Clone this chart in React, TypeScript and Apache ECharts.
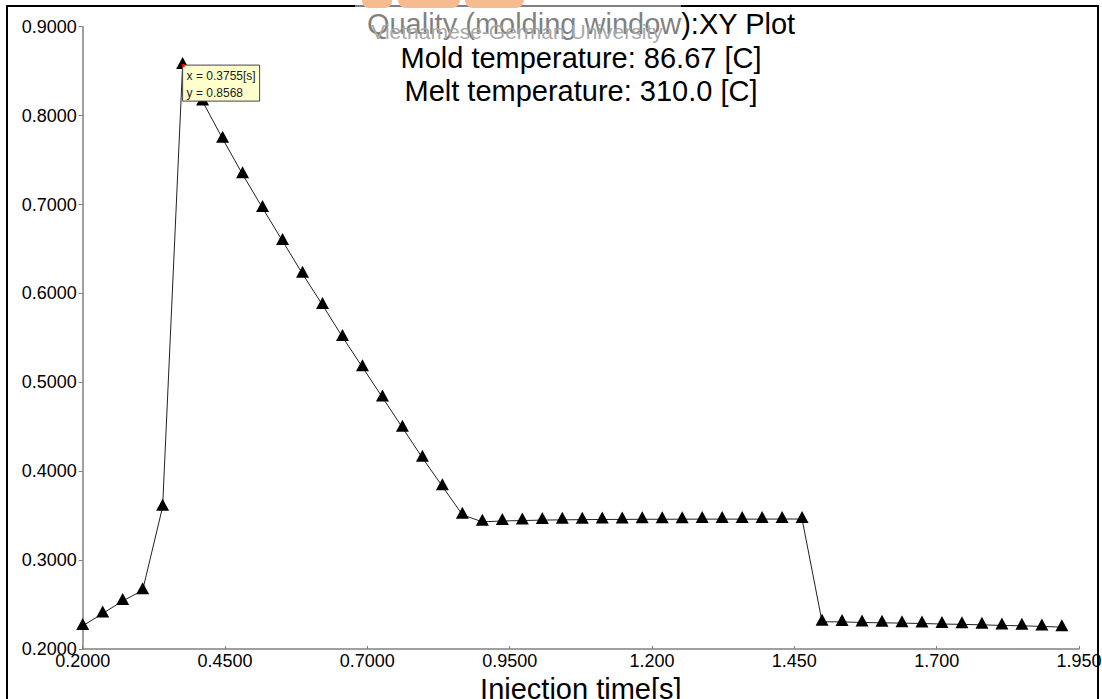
import React, { useEffect, useRef } from "react";
import * as echarts from "echarts";

// Injection time [s]
const times: number[] = [
  0.2000, 0.2351, 0.2702, 0.3053, 0.3404, 0.3755, 0.4106, 0.4457, 0.4808, 0.5159,
  0.5510, 0.5861, 0.6212, 0.6563, 0.6914, 0.7265, 0.7616, 0.7967, 0.8318, 0.8669,
  0.9020, 0.9371, 0.9722, 1.0073, 1.0424, 1.0775, 1.1126, 1.1477, 1.1828, 1.2179,
  1.2530, 1.2881, 1.3232, 1.3583, 1.3934, 1.4285, 1.4636, 1.4987, 1.5338, 1.5689,
  1.6040, 1.6391, 1.6742, 1.7093, 1.7444, 1.7795, 1.8146, 1.8497, 1.8848, 1.9199,
];

// Quality (molding window)
const quality: number[] = [
  0.226, 0.240, 0.254, 0.266, 0.360, 0.8568, 0.816, 0.774, 0.734, 0.696,
  0.659, 0.622, 0.587, 0.551, 0.517, 0.483, 0.449, 0.415, 0.383, 0.351,
  0.343, 0.3440, 0.3445, 0.3450, 0.3453, 0.3455, 0.3457, 0.3458, 0.3459, 0.3460,
  0.3460, 0.3461, 0.3461, 0.3461, 0.3461, 0.3462, 0.3462, 0.2306, 0.2305, 0.2298,
  0.2295, 0.2291, 0.2287, 0.2281, 0.2277, 0.2272, 0.2265, 0.2261, 0.2254, 0.2246,
];

const xStart = 0.2;
const xEnd = 1.95;
const xStep = 0.25;
const yMin = 0.2;
const yMax = 0.9;
const yStep = 0.1;

const titleLine1 = "Quality (molding window):XY Plot";
const titleLine2 = "Mold temperature: 86.67 [C]";
const titleLine3 = "Melt temperature: 310.0 [C]";
const xAxisName = "Injection time[s]";
const watermark = "Vietnamese-German University";

const tipIndex = 5;
const tipX = "x = 0.3755[s]";
const tipY = "y = 0.8568";

const FONT = "'Liberation Sans', Arial, sans-serif";

export default function App() {
  const ref = useRef<HTMLDivElement>(null);

  useEffect(() => {
    document.body.style.margin = "0";
    document.body.style.overflow = "hidden";
    if (!ref.current) return;
    const chart = echarts.init(ref.current, null, { renderer: "svg" });

    const seriesData = times.map((t, i) => [t - xStart, quality[i]]);

    chart.setOption({
      animation: false,
      backgroundColor: "#ffffff",
      grid: {
        left: 82.7,
        top: 26.7,
        width: 996.3,
        height: 622.3,
        containLabel: false,
        outerBoundsMode: "none",
      },
      xAxis: {
        type: "value",
        min: 0,
        max: xEnd - xStart,
        interval: xStep,
        name: xAxisName,
        nameLocation: "middle",
        nameGap: 19,
        nameTextStyle: { fontFamily: FONT, fontSize: 29, color: "#000" },
        axisLine: { show: true, onZero: false, lineStyle: { color: "#808080", width: 1.5 } },
        axisTick: { show: true, inside: true, length: 3, lineStyle: { color: "#808080" } },
        splitLine: { show: false },
        axisLabel: {
          margin: 3,
          fontFamily: FONT,
          fontSize: 18,
          color: "#000",
          showMinLabel: true,
          showMaxLabel: true,
          formatter: (v: number) => (v + xStart).toPrecision(4),
        },
      },
      yAxis: {
        type: "value",
        min: yMin,
        max: yMax,
        interval: yStep,
        axisLine: { show: true, onZero: false, lineStyle: { color: "#808080", width: 1.5 } },
        axisTick: { show: true, inside: false, length: 4, lineStyle: { color: "#808080" } },
        splitLine: { show: false },
        axisLabel: {
          margin: 6,
          fontFamily: FONT,
          fontSize: 18,
          color: "#000",
          showMinLabel: true,
          showMaxLabel: true,
          formatter: (v: number) => v.toPrecision(4),
        },
      },
      series: [
        {
          type: "line",
          data: seriesData,
          symbol: "triangle",
          symbolSize: [13, 12],
          symbolOffset: [0, -2],
          showSymbol: true,
          itemStyle: { color: "#000" },
          lineStyle: { color: "#222", width: 1 },
        },
      ],
    });

    const p = chart.convertToPixel({ xAxisIndex: 0, yAxisIndex: 0 }, [
      times[tipIndex] - xStart,
      quality[tipIndex],
    ]) as number[];

    const titleStyle = {
      fontFamily: FONT,
      fontSize: 29,
      fill: "#000",
      align: "center",
      verticalAlign: "middle",
    };

    chart.setOption({
      graphic: [
        {
          type: "rect",
          shape: { x: 7, y: 6, width: 1091, height: 710 },
          style: { fill: "none", stroke: "#000", lineWidth: 2 },
          silent: true,
          z: 1,
        },
        { type: "text", x: 581, y: 24, style: { ...titleStyle, text: titleLine1 }, z: 10 },
        { type: "text", x: 581, y: 58, style: { ...titleStyle, text: titleLine2 }, z: 10 },
        { type: "text", x: 581, y: 91, style: { ...titleStyle, text: titleLine3 }, z: 10 },
        {
          type: "rect",
          shape: { x: 355, y: 0, width: 326, height: 40 },
          style: { fill: "#ffffff", opacity: 0.5 },
          silent: true,
          z: 11,
        },
        {
          type: "text",
          x: 517,
          y: 31,
          style: {
            text: watermark,
            fontFamily: FONT,
            fontSize: 21,
            fill: "#a8a8a8",
            align: "center",
            verticalAlign: "middle",
          },
          z: 12,
        },
        {
          type: "rect",
          shape: { x: 362, y: -12, width: 30, height: 20, r: 7 },
          style: { fill: "#f6bb8e" },
          z: 13,
        },
        {
          type: "rect",
          shape: { x: 398, y: -12, width: 62, height: 20, r: 8 },
          style: { fill: "#f6bb8e" },
          z: 13,
        },
        {
          type: "rect",
          shape: { x: 465, y: -12, width: 59, height: 20, r: 8 },
          style: { fill: "#f6bb8e" },
          z: 13,
        },
        {
          type: "rect",
          shape: { x: p[0], y: p[1], width: 77, height: 36 },
          style: { fill: "#ffffcc", stroke: "#444", lineWidth: 1 },
          z: 20,
        },
        {
          type: "text",
          x: p[0] + 4,
          y: p[1] + 11,
          style: {
            text: tipX,
            fontFamily: FONT,
            fontSize: 12,
            fill: "#222",
            align: "left",
            verticalAlign: "middle",
          },
          z: 21,
        },
        {
          type: "text",
          x: p[0] + 4,
          y: p[1] + 28,
          style: {
            text: tipY,
            fontFamily: FONT,
            fontSize: 12,
            fill: "#222",
            align: "left",
            verticalAlign: "middle",
          },
          z: 21,
        },
        {
          type: "rect",
          shape: { x: p[0] - 1, y: p[1] - 1, width: 3, height: 3 },
          style: { fill: "#ff0000" },
          z: 22,
        },
      ],
    });

    return () => chart.dispose();
  }, []);

  return <div ref={ref} style={{ width: 1102, height: 699 }} />;
}
